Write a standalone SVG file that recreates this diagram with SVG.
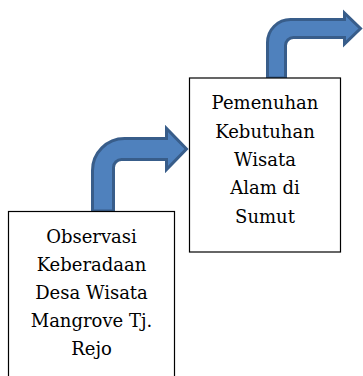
<svg xmlns="http://www.w3.org/2000/svg" width="363" height="376" viewBox="0 0 363 376">
<style>
.box{fill:#fff;stroke:#000;stroke-width:1.2}
.arrow{fill:#4f81bd;stroke:#385d8a;stroke-width:3;stroke-linejoin:miter}
.lbl{font-family:"DejaVu Serif","Liberation Serif",serif;font-size:18px;fill:#000;text-anchor:middle}
</style>
<rect width="363" height="376" fill="#fff"/>
<g id="connectors">
<path class="arrow" d="M 92.5 211 V 170.5 A 32 32 0 0 1 124.5 138.5 H 166.5 V 128.5 L 186.5 149 L 166.5 169.5 V 159.5 H 121.5 A 8 8 0 0 0 113.5 167.5 V 211 Z"/>
<path class="arrow" d="M 267.5 78 V 42.5 A 23 23 0 0 1 290.5 19.5 H 344.5 V 13 L 360.5 28.5 L 344.5 44 V 37.5 H 293.5 A 8 8 0 0 0 285.5 45.5 V 78 Z"/>
</g>
<g id="node1">
<rect class="box" x="8.5" y="211.5" width="166" height="170"/>
<text class="lbl" x="91.5" y="242.5">Observasi</text>
<text class="lbl" x="91.5" y="270.7">Keberadaan</text>
<text class="lbl" x="91.5" y="298.9">Desa Wisata</text>
<text class="lbl" x="91.5" y="327.1">Mangrove Tj.</text>
<text class="lbl" x="91.5" y="355.3">Rejo</text>
</g>
<g id="node2">
<rect class="box" x="189.5" y="78" width="151" height="174"/>
<text class="lbl" x="265" y="109.3">Pemenuhan</text>
<text class="lbl" x="265" y="137.7">Kebutuhan</text>
<text class="lbl" x="265" y="166">Wisata</text>
<text class="lbl" x="265" y="194.3">Alam di</text>
<text class="lbl" x="265" y="222.7">Sumut</text>
</g>
</svg>
